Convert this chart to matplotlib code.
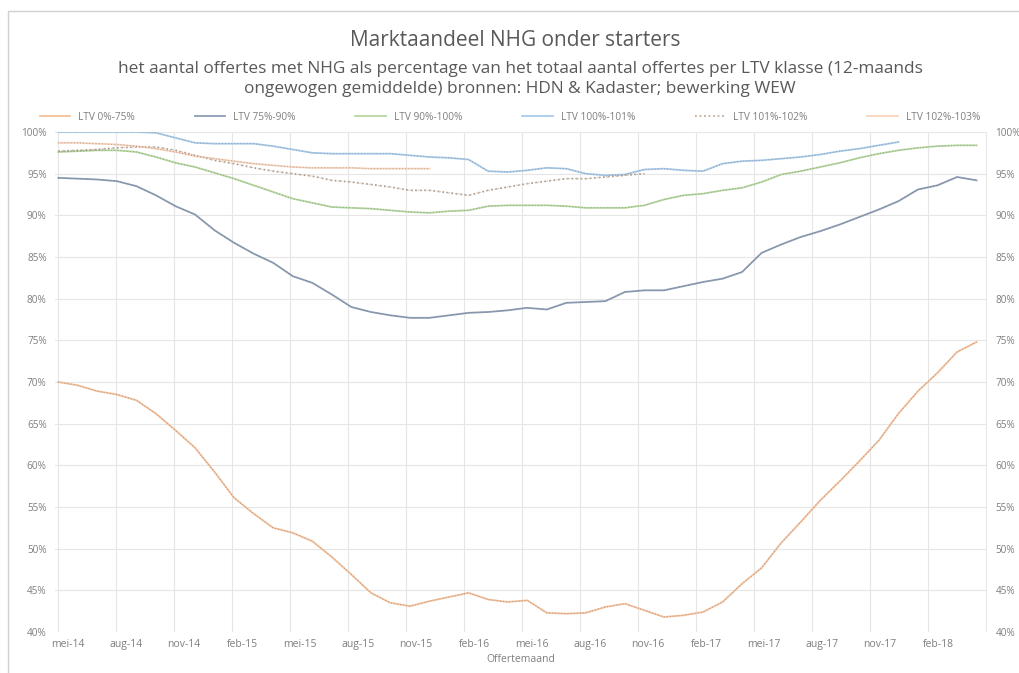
import numpy as np
import matplotlib
matplotlib.use("Agg")
import matplotlib.pyplot as plt
from matplotlib.patches import Rectangle

plt.rcParams['font.family'] = ['Open Sans', 'DejaVu Sans']

title = "Marktaandeel NHG onder starters"
subtitle = ("het aantal offertes met NHG als percentage van het totaal aantal offertes per LTV klasse (12-maands\n"
            "ongewogen gemiddelde) bronnen: HDN & Kadaster; bewerking WEW")
xlabel = "Offertemaand"
tick_labels = ["mei-14", "aug-14", "nov-14", "feb-15", "mei-15", "aug-15", "nov-15", "feb-16",
               "mei-16", "aug-16", "nov-16", "feb-17", "mei-17", "aug-17", "nov-17", "feb-18"]
series_names = ["LTV 0%-75%", "LTV 75%-90%", "LTV 90%-100%", "LTV 100%-101%", "LTV 101%-102%", "LTV 102%-103%"]

ltv_0_75 = [70.0, 69.6, 68.9, 68.5, 67.8, 66.2, 64.2, 62.1, 59.2, 56.1, 54.2, 52.5, 51.9, 50.9, 49.0, 46.9,
            44.7, 43.5, 43.1, 43.7, 44.2, 44.7, 43.9, 43.6, 43.8, 42.3, 42.2, 42.3, 43.0, 43.4, 42.6, 41.8,
            42.0, 42.4, 43.6, 45.8, 47.7, 50.7, 53.2, 55.8, 58.1, 60.5, 63.0, 66.2, 68.9, 71.1, 73.6, 74.8]
ltv_75_90 = [94.5, 94.4, 94.3, 94.1, 93.5, 92.4, 91.1, 90.1, 88.2, 86.7, 85.4, 84.3, 82.7, 81.9, 80.5, 79.0,
             78.4, 78.0, 77.7, 77.7, 78.0, 78.3, 78.4, 78.6, 78.9, 78.7, 79.5, 79.6, 79.7, 80.8, 81.0, 81.0,
             81.5, 82.0, 82.4, 83.2, 85.5, 86.5, 87.4, 88.1, 88.9, 89.8, 90.7, 91.7, 93.1, 93.6, 94.6, 94.2]
ltv_90_100 = [97.6, 97.7, 97.8, 97.8, 97.6, 97.0, 96.3, 95.8, 95.1, 94.4, 93.6, 92.8, 92.0, 91.5, 91.0, 90.9,
              90.8, 90.6, 90.4, 90.3, 90.5, 90.6, 91.1, 91.2, 91.2, 91.2, 91.1, 90.9, 90.9, 90.9, 91.2, 91.9,
              92.4, 92.6, 93.0, 93.3, 94.0, 94.9, 95.3, 95.8, 96.3, 96.9, 97.4, 97.8, 98.1, 98.3, 98.4, 98.4]
ltv_100_101 = [100.0, 100.0, 100.0, 100.0, 100.0, 99.9, 99.3, 98.7, 98.6, 98.6, 98.6, 98.3, 97.9, 97.5, 97.4, 97.4,
               97.4, 97.4, 97.2, 97.0, 96.9, 96.7, 95.3, 95.2, 95.4, 95.7, 95.6, 95.0, 94.8, 94.9, 95.5, 95.6,
               95.4, 95.3, 96.2, 96.5, 96.6, 96.8, 97.0, 97.3, 97.7, 98.0, 98.4, 98.8]
ltv_101_102 = [97.7, 97.8, 97.9, 98.1, 98.2, 98.2, 97.8, 97.2, 96.6, 96.2, 95.7, 95.3, 95.0, 94.7, 94.2, 94.0,
               93.7, 93.4, 93.0, 93.0, 92.7, 92.4, 93.0, 93.4, 93.8, 94.1, 94.4, 94.4, 94.6, 94.8, 95.0]
ltv_102_103 = [98.7, 98.7, 98.6, 98.5, 98.3, 98.0, 97.6, 97.1, 96.8, 96.5, 96.2, 96.0, 95.8, 95.7, 95.7, 95.7,
               95.6, 95.6, 95.6, 95.6]

all_series = [ltv_0_75, ltv_75_90, ltv_90_100, ltv_100_101, ltv_101_102, ltv_102_103]
colors = ["#F6C09A", "#8D9DB5", "#B5D89F", "#A9CBEA", "#C4AC96", "#F8D3BC"]
styles = ["-", "-", "-", "-", (0, (1, 1.5)), "-"]

n_points = len(ltv_0_75)
x_all = np.linspace(-0.5, 47.0, n_points)

fig = plt.figure(figsize=(10.2, 6.73), dpi=100)
fig.patch.set_facecolor("white")
fig.add_artist(Rectangle((8 / 1020, -0.1), 1.2, 1 - 11 / 673 + 0.1, transform=fig.transFigure,
                         facecolor="none", edgecolor="#D0D0D0", linewidth=1.0))

ax = fig.add_axes([55 / 1020, 1 - 632 / 673, (987 - 55) / 1020, (632 - 132) / 673])
ax.set_xlim(-0.67, 47.54)
ax.set_ylim(40, 100)

handles = []
for vals, col, ls, name in zip(all_series, colors, styles, series_names):
    xs = x_all[:len(vals)]
    h, = ax.plot(xs, vals, color=col, linestyle=ls, linewidth=1.3, label=name, zorder=3)
    ax.plot(xs, vals, color="#707070", linestyle=(0, (1, 2.2)), linewidth=0.7, alpha=0.5, zorder=4)
    handles.append(h)

grid_x = np.arange(0, 17) * 3 - 0.5
ax.set_xticks(grid_x)
ax.set_xticklabels([])
ax.set_xticks(np.arange(len(tick_labels)) * 3, minor=True)
ax.set_xticklabels(tick_labels, minor=True)
ax.tick_params(axis="x", which="both", length=0, labelsize=7.5, labelcolor="#7F7F7F", pad=5)
ax.grid(axis="x", which="major", color="#E6E6E6", linewidth=0.8)

yt = np.arange(40, 101, 5)
ax.set_yticks(yt)
ax.set_yticklabels([f"{v}%" for v in yt])
ax.tick_params(axis="y", length=0, labelsize=7.2, labelcolor="#7F7F7F", labelleft=True, labelright=True, pad=6)
ax.grid(axis="y", color="#E6E6E6", linewidth=0.8)
for s in ax.spines.values():
    s.set_visible(False)
ax.set_axisbelow(True)

ax.set_xlabel(xlabel, fontsize=7.5, color="#7F7F7F", labelpad=3)

fig.text(0.505, 1 - 40 / 673, title, ha="center", va="center", fontsize=15, color="#595959")
fig.text(0.51, 1 - 79 / 673, subtitle, ha="center", va="center", fontsize=12.4, color="#595959",
         linespacing=1.4)

fig.legend(handles=handles, labels=series_names, loc="lower left",
           bbox_to_anchor=(0.035, 1 - 127 / 673, 0.93, 0.03), mode="expand", ncol=6,
           frameon=False, fontsize=7.3, handlelength=3, labelcolor="#7F7F7F", borderaxespad=0)

fig.savefig("out.png", dpi=100, facecolor="white")
